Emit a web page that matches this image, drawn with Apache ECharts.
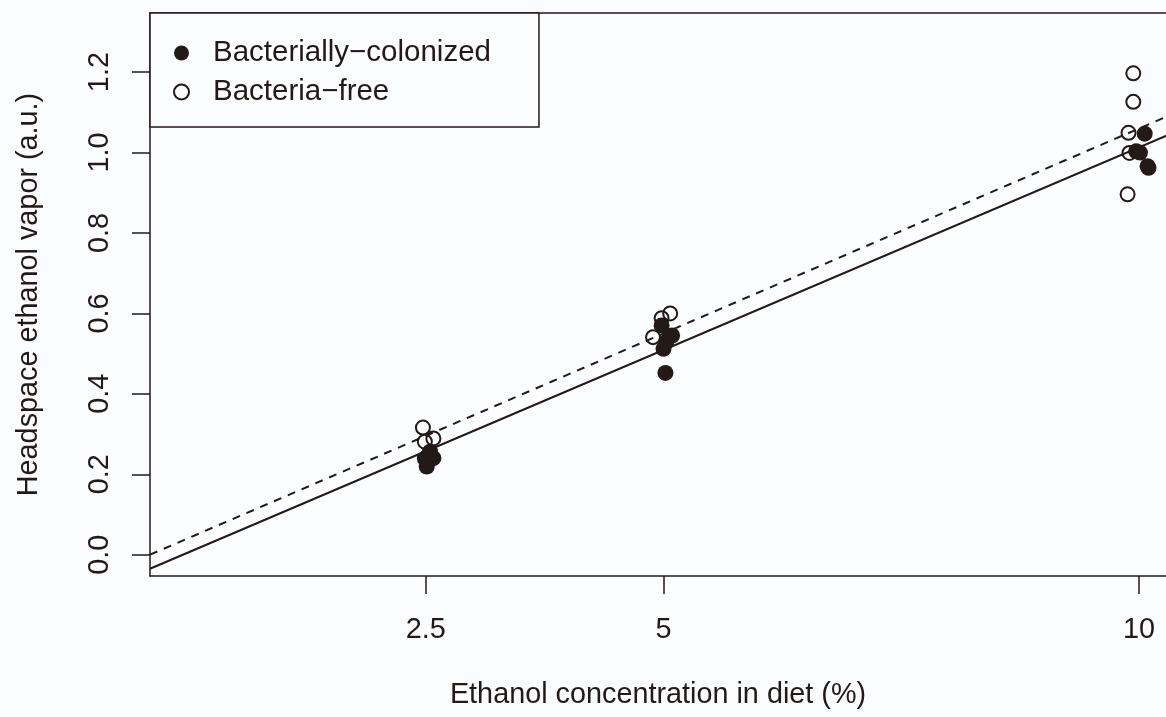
<!DOCTYPE html>
<html><head><meta charset="utf-8">
<script src="https://cdn.jsdelivr.net/npm/echarts@6/dist/echarts.min.js"></script>
<style>html,body{margin:0;padding:0;background:#fbfcfe}#c{width:1166px;height:717px}</style>
</head><body><div id="c"></div>
<script>
// Tick values
const xTicks = [2.5, 5, 10];
const yTicks = [0, 0.2, 0.4, 0.6, 0.8, 1.0, 1.2];
// Series names
const seriesNames = ['Bacterially\u2212colonized', 'Bacteria\u2212free'];
// Bacterially-colonized (filled) points: [diet %, headspace vapor]
const colonized = [
  [2.49, 0.239], [2.545, 0.256], [2.58, 0.240], [2.51, 0.219],
  [4.98, 0.570], [5.09, 0.545], [5.03, 0.530], [5.00, 0.512], [5.02, 0.452],
  [10.06, 1.047], [9.97, 1.003], [10.01, 1.000], [10.10, 0.962], [10.09, 0.966]
];
// Bacteria-free (open) points
const bacteriaFree = [
  [2.47, 0.316], [2.49, 0.281], [2.58, 0.289],
  [5.07, 0.600], [4.98, 0.588], [4.89, 0.541],
  [9.94, 1.197], [9.94, 1.126], [9.89, 1.049], [9.90, 0.999], [9.88, 0.896]
];
// Fitted lines (endpoints at the axis limits)
const fitColonized = [[-0.4, -0.035], [10.4, 1.053]];
const fitFree = [[-0.4, 0.0], [10.4, 1.1005]];

const ink = '#231916';
const font = '"Liberation Sans", Arial, Helvetica, sans-serif';
const fs = 28.8;

const chart = echarts.init(document.getElementById('c'));
chart.setOption({
  animation: false,
  backgroundColor: '#fbfcfe',
  grid: { left: 150, top: 13, bottom: 141, right: 0, show: false },
  legend: {
    left: 150, top: 13, orient: 'vertical',
    data: seriesNames,
    selectedMode: false,
    borderColor: ink, borderWidth: 1.5, borderRadius: 0,
    backgroundColor: '#fbfcfe',
    padding: [25, 48, 20, 23],
    itemWidth: 15, itemHeight: 15, itemGap: 9,
    textStyle: { fontFamily: font, fontSize: 29.5, lineHeight: 29, color: ink, padding: [0, 0, 0, 19] }
  },
  xAxis: [{
    type: 'value', min: -0.4, max: 10.284,
    name: 'Ethanol concentration in diet (%)', nameLocation: 'middle', nameGap: 105,
    nameTextStyle: { fontFamily: font, fontSize: fs, color: ink },
    axisLine: { show: true, onZero: false, lineStyle: { color: ink, width: 1.5 } },
    axisTick: { show: true, customValues: xTicks, length: 18, inside: false, lineStyle: { color: ink, width: 1.5 } },
    axisLabel: { customValues: xTicks, margin: 40, fontFamily: font, fontSize: fs, lineHeight: 28, color: ink,
      formatter: v => String(v) },
    splitLine: { show: false }
  }, {
    type: 'value', position: 'top', min: -0.4, max: 10.284,
    axisLine: { show: true, onZero: false, lineStyle: { color: ink, width: 1.5 } },
    axisTick: { show: false }, axisLabel: { show: false }, splitLine: { show: false }
  }],
  yAxis: {
    type: 'value', min: -0.053, max: 1.347,
    name: 'Headspace ethanol vapor (a.u.)', nameLocation: 'middle', nameGap: 107, nameRotate: 90,
    nameTextStyle: { fontFamily: font, fontSize: fs, lineHeight: 28, color: ink },
    axisLine: { show: true, onZero: false, lineStyle: { color: ink, width: 1.5 } },
    axisTick: { show: true, customValues: yTicks, length: 18, lineStyle: { color: ink, width: 1.5 } },
    axisLabel: { customValues: yTicks, rotate: 90, margin: 36, fontFamily: font, fontSize: fs, lineHeight: 28, color: ink,
      formatter: v => v.toFixed(1) },
    splitLine: { show: false }
  },
  series: [
    { name: 'fitColonized', type: 'line', data: fitColonized, symbol: 'none', silent: true, z: 3,
      lineStyle: { color: ink, width: 2, type: 'solid' } },
    { name: 'fitFree', type: 'line', data: fitFree, symbol: 'none', silent: true, z: 3,
      lineStyle: { color: ink, width: 2, type: [8, 7] } },
    { name: seriesNames[1], type: 'scatter', data: bacteriaFree, symbol: 'circle', symbolSize: 14, z: 4,
      itemStyle: { color: 'rgba(0,0,0,0)', borderColor: ink, borderWidth: 2, opacity: 1 } },
    { name: seriesNames[0], type: 'scatter', data: colonized, symbol: 'circle', symbolSize: 16, z: 5,
      itemStyle: { color: ink, borderColor: ink, borderWidth: 0, opacity: 1 } }
  ]
});
</script>
</body></html>
